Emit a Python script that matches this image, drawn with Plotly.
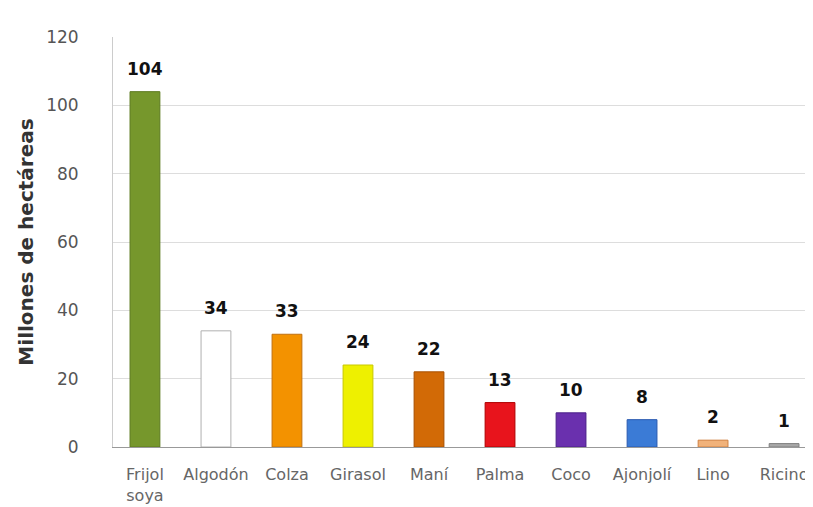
import plotly.graph_objects as go

categories = ["Frijol<br>soya", "Algodón", "Colza", "Girasol", "Maní", "Palma", "Coco", "Ajonjolí", "Lino", "Ricino"]
values = [104, 34, 33, 24, 22, 13, 10, 8, 2, 1]
colors = ["#76972c", "#ffffff", "#f39200", "#eef000", "#d26a06", "#e8141c", "#6a30ae", "#3b7bd6", "#f1b27a", "#a8a8a8"]
outlines = ["#5c7a1e", "#b0b0b0", "#c07010", "#c8c800", "#a85000", "#b00000", "#4a2088", "#2a5ab0", "#d08040", "#808080"]
y_ticks = [0, 20, 40, 60, 80, 100, 120]

fig = go.Figure()
fig.add_trace(go.Bar(
    x=list(range(len(categories))),
    y=values,
    marker=dict(color=colors, line=dict(color=outlines, width=1)),
    width=0.42,
    cliponaxis=False,
))

for i, v in enumerate(values):
    fig.add_annotation(
        x=i, y=v, text=f"<b>{v}</b>", showarrow=False,
        yanchor="bottom", yshift=11,
        font=dict(family="DejaVu Sans", size=17, color="#111111"),
    )

fig.update_layout(
    width=813, height=507,
    margin=dict(l=105, r=0, t=29, b=68),
    plot_bgcolor="white", paper_bgcolor="white",
    showlegend=False,
    font=dict(family="DejaVu Sans", color="#555555"),
    xaxis=dict(
        tickmode="array", tickvals=list(range(len(categories))), ticktext=categories,
        range=[-0.45, 9.52], showgrid=False, showline=True, linecolor="#999999",
        tickfont=dict(size=16, color="#666666"), ticks="", ticklabelstandoff=13,
    ),
    yaxis=dict(
        range=[0, 120], tickvals=y_ticks, showgrid=True, gridcolor="#dddddd",
        showline=True, linecolor="#cccccc", zeroline=False,
        tickfont=dict(size=17, color="#555555"), ticks="", ticklabelstandoff=30,
        title=dict(text="<b>Millones de hectáreas</b>", font=dict(size=20, color="#333333"), standoff=7),
    ),
)

fig.write_html("out.html")
